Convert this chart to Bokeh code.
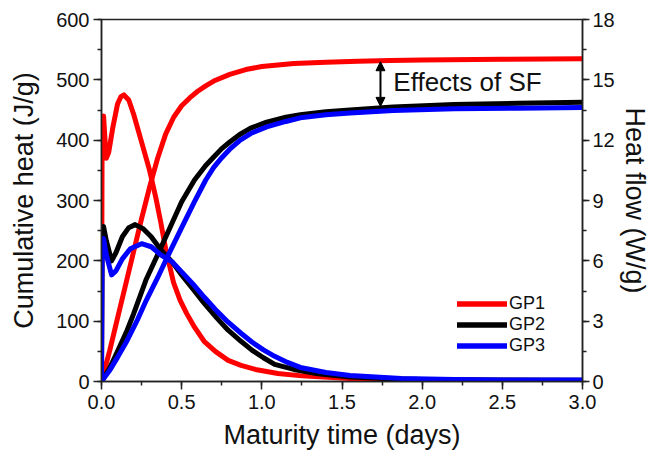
from bokeh.plotting import figure
from bokeh.models import (Range1d, LinearAxis, SingleIntervalTicker, NumeralTickFormatter,
                          Legend, LegendItem, Arrow, NormalHead, Label)
from bokeh.embed import file_html
from bokeh.resources import INLINE

# ---- data ----
series_names = ["GP1", "GP2", "GP3"]
series_colors = ["#ff0000", "#000000", "#0000ff"]

# cumulative heat (J/g), left axis
gp1_cum_t = [0, 0.013, 0.05, 0.1, 0.15, 0.2, 0.25, 0.3, 0.35, 0.4, 0.45, 0.5, 0.55, 0.6, 0.65, 0.7, 0.8, 0.9, 1.0, 1.2, 1.4, 1.6, 1.8, 2.0, 2.5, 3.0]
gp1_cum_v = [0, 13, 50, 105, 160, 215, 270, 322, 370, 410, 438, 457, 470, 481, 490, 498, 509, 517, 522, 527, 529, 531, 532, 533, 534, 535]

gp2_cum_t = [0, 0.05, 0.1, 0.16, 0.2, 0.28, 0.35, 0.41, 0.5, 0.58, 0.65, 0.7, 0.75, 0.8, 0.86, 0.93, 1.03, 1.15, 1.24, 1.4, 1.55, 1.82, 2.2, 2.6, 3.0]
gp2_cum_v = [0, 22, 50, 85, 112, 170, 210, 245, 298, 334, 358, 372, 386, 397, 409, 420, 430, 438, 442, 447, 450, 455, 459, 461, 463]

gp3_cum_t = [0, 0.05, 0.1, 0.16, 0.22, 0.28, 0.35, 0.41, 0.5, 0.58, 0.65, 0.7, 0.75, 0.8, 0.86, 0.93, 1.03, 1.15, 1.24, 1.4, 1.55, 1.82, 2.2, 2.6, 3.0]
gp3_cum_v = [0, 18, 40, 68, 100, 135, 172, 206, 255, 298, 334, 355, 371, 385, 399, 411, 422, 431, 437, 442, 445, 449, 452, 453, 454]

# heat flow (W/g), right axis
gp1_flow_t = [0, 0.004, 0.013, 0.022, 0.03, 0.045, 0.07, 0.1, 0.12, 0.14, 0.17, 0.2, 0.25, 0.3, 0.34, 0.37, 0.4, 0.45, 0.49, 0.53, 0.58, 0.64, 0.71, 0.79, 0.87, 0.96, 1.1, 1.25, 1.55, 2.0, 2.5, 3.0]
gp1_flow_v = [0, 13.0, 13.2, 12.0, 11.1, 11.4, 12.6, 13.8, 14.15, 14.25, 14.0, 13.3, 11.9, 10.5, 9.1, 7.9, 6.6, 4.9, 4.05, 3.4, 2.7, 2.0, 1.5, 1.05, 0.8, 0.6, 0.4, 0.28, 0.15, 0.07, 0.04, 0.03]

gp2_flow_t = [0, 0.004, 0.013, 0.03, 0.063, 0.09, 0.13, 0.17, 0.21, 0.26, 0.31, 0.37, 0.44, 0.5, 0.57, 0.64, 0.72, 0.79, 0.87, 0.94, 1.01, 1.08, 1.2, 1.35, 1.55, 1.76, 2.0, 2.5, 3.0]
gp2_flow_v = [0, 7.6, 7.7, 7.0, 6.0, 6.4, 7.2, 7.65, 7.8, 7.6, 7.2, 6.55, 5.95, 5.3, 4.6, 3.9, 3.15, 2.55, 2.0, 1.55, 1.18, 0.85, 0.6, 0.38, 0.22, 0.15, 0.1, 0.07, 0.06]

gp3_flow_t = [0, 0.004, 0.013, 0.03, 0.063, 0.09, 0.13, 0.18, 0.25, 0.31, 0.37, 0.44, 0.5, 0.57, 0.64, 0.72, 0.79, 0.87, 0.94, 1.01, 1.08, 1.16, 1.24, 1.4, 1.55, 1.87, 2.2, 2.5, 3.0]
gp3_flow_v = [0, 7.0, 7.1, 6.3, 5.3, 5.5, 6.1, 6.6, 6.85, 6.7, 6.3, 5.95, 5.45, 4.85, 4.2, 3.5, 2.95, 2.4, 1.95, 1.57, 1.25, 0.95, 0.7, 0.45, 0.3, 0.15, 0.1, 0.08, 0.07]

x_ticks_interval = 0.5
left_ticks_interval = 100
right_ticks_interval = 3

annot_text = "Effects of SF"
arrow_t = 1.74
arrow_top = 530
arrow_bottom = 456
annot_t = 1.82
annot_v = 497

FONT = "Liberation Sans"

p = figure(width=652, height=452, x_range=Range1d(0, 3), y_range=Range1d(0, 600),
           output_backend="svg", toolbar_location=None,
           min_border_left=101, min_border_right=60, min_border_top=19, min_border_bottom=66)
p.extra_y_ranges = {"flow": Range1d(0, 18)}

p.xgrid.visible = False
p.ygrid.visible = False
p.outline_line_color = "#222222"
p.outline_line_width = 1.5
p.background_fill_color = "white"
p.border_fill_color = "white"

def style_axis(ax, label):
    ax.axis_label = label
    ax.axis_label_text_font = FONT
    ax.axis_label_text_font_size = "27px"
    ax.axis_label_text_font_style = "normal"
    ax.axis_label_text_color = "#111111"
    ax.major_label_text_font = FONT
    ax.major_label_text_font_size = "20px"
    ax.major_label_text_color = "#111111"
    ax.axis_line_color = "#222222"
    ax.axis_line_width = 1.5
    ax.major_tick_line_color = "#222222"
    ax.minor_tick_line_color = "#222222"
    ax.major_tick_line_width = 1.5
    ax.minor_tick_line_width = 1.5
    ax.major_tick_in = 0
    ax.major_tick_out = 8
    ax.minor_tick_in = 0
    ax.minor_tick_out = 4

xa = p.xaxis[0]
xa.ticker = SingleIntervalTicker(interval=x_ticks_interval, num_minor_ticks=2)
xa.formatter = NumeralTickFormatter(format="0.0")
style_axis(xa, "Maturity time (days)")
xa.major_label_standoff = 5
xa.axis_label_standoff = 8

ya = p.yaxis[0]
ya.ticker = SingleIntervalTicker(interval=left_ticks_interval, num_minor_ticks=2)
style_axis(ya, "Cumulative heat (J/g)")
ya.major_label_standoff = 4
ya.axis_label_standoff = 14

ra = LinearAxis(y_range_name="flow")
ra.ticker = SingleIntervalTicker(interval=right_ticks_interval, num_minor_ticks=2)
style_axis(ra, "Heat flow (W/g)")
ra.major_tick_out = 7
ra.major_label_standoff = 3
ra.axis_label_standoff = 2
p.add_layout(ra, "right")

cum = [(gp1_cum_t, gp1_cum_v), (gp2_cum_t, gp2_cum_v), (gp3_cum_t, gp3_cum_v)]
flow = [(gp1_flow_t, gp1_flow_v), (gp2_flow_t, gp2_flow_v), (gp3_flow_t, gp3_flow_v)]

items = []
for name, col, (ct, cv), (ft, fv) in zip(series_names, series_colors, cum, flow):
    r1 = p.line(ct, cv, line_color=col, line_width=5, line_join="round", line_cap="round")
    r2 = p.line(ft, fv, line_color=col, line_width=5, line_join="round", line_cap="round",
                y_range_name="flow")
    items.append(LegendItem(label=name, renderers=[r1, r2]))

legend = Legend(items=items, location=(356, 25), orientation="vertical",
                glyph_width=50, glyph_height=21, label_height=20, label_standoff=2,
                spacing=0, padding=0, margin=0,
                label_text_font=FONT, label_text_font_size="18px", label_text_color="#111111",
                border_line_color=None, background_fill_alpha=0)
p.add_layout(legend, "center")

arrow = Arrow(start=NormalHead(size=9, fill_color="black", line_color="black"),
              end=NormalHead(size=9, fill_color="black", line_color="black"),
              x_start=arrow_t, y_start=arrow_top, x_end=arrow_t, y_end=arrow_bottom,
              line_color="black", line_width=2)
p.add_layout(arrow)

lab = Label(x=annot_t, y=annot_v, text=annot_text, text_font=FONT, text_font_size="26px",
            text_baseline="middle", text_color="#111111")
p.add_layout(lab)

open("out.html", "w").write(file_html(p, INLINE))
